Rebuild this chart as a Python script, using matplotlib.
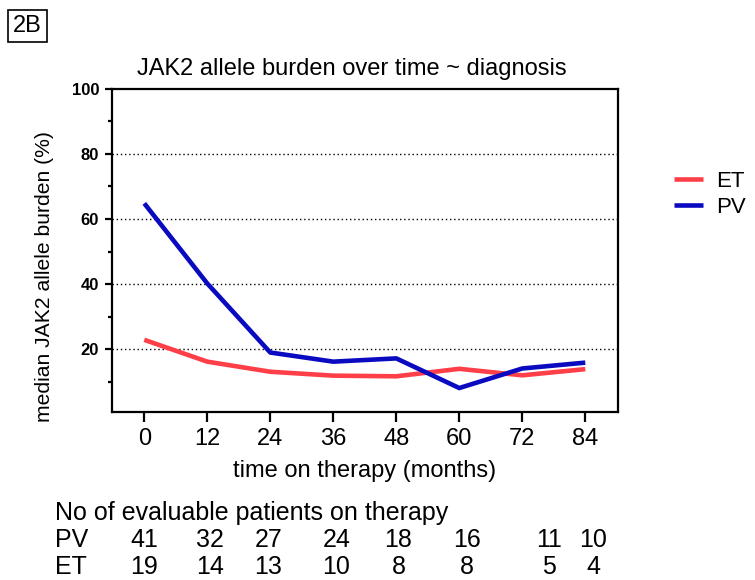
import matplotlib.pyplot as plt
from matplotlib.ticker import MultipleLocator

plt.rcParams['font.family'] = ['Liberation Sans', 'DejaVu Sans']

# dati
months = [0, 12, 24, 36, 48, 60, 72, 84]
et_burden = [22.9, 16.2, 13.1, 11.9, 11.7, 14.0, 12.0, 13.9]
pv_burden = [64.8, 40.2, 19.0, 16.2, 17.2, 8.1, 14.1, 15.9]
pv_counts = [41, 32, 27, 24, 18, 16, 11, 10]
et_counts = [19, 14, 13, 10, 8, 8, 5, 4]

c_et = '#FF3F48'
c_pv = '#0A0AC0'

fig = plt.figure(figsize=(7.55, 5.8), dpi=100)
ax = fig.add_axes([0.148, 0.29, 0.671, 0.557])

ax.plot(months, et_burden, color=c_et, lw=3.3, label='ET', solid_capstyle='butt')
ax.plot(months, pv_burden, color=c_pv, lw=3.3, label='PV', solid_capstyle='butt')

ax.set_xlim(-6.2, 90.3)
ax.set_ylim(0.8, 100)
ax.set_xticks(months)
ax.set_yticks([20, 40, 60, 80, 100])
ax.yaxis.set_minor_locator(MultipleLocator(10))
for y in [20, 40, 60, 80]:
    ax.axhline(y, color='black', lw=1, ls=(0, (1, 2)), zorder=0)

for s in ax.spines.values():
    s.set_linewidth(1.6)
ax.tick_params(axis='x', direction='out', length=7, width=1.6, labelsize=17, pad=5)
ax.tick_params(axis='y', which='major', direction='out', length=5, width=1.6, labelsize=12, pad=4)
ax.tick_params(axis='y', which='minor', direction='out', length=3, width=1.6)
for lab in ax.get_yticklabels():
    lab.set_fontweight('bold')

ax.set_xlabel('time on therapy (months)', fontsize=17, labelpad=7)
ax.set_ylabel('median JAK2 allele burden (%)', fontsize=15.2)
ax.yaxis.set_label_coords(-0.113, 0.418)
ax.set_title('JAK2 allele burden over time ~ diagnosis', fontsize=17, pad=10, x=0.474)

ax.legend(loc='center left', bbox_to_anchor=(1.07, 0.673), frameon=False, fontsize=16,
          handlelength=1.3, handletextpad=0.6, labelspacing=0.22)

# pannello
fig.text(0.017, 0.955, '2B', fontsize=17, va='center', ha='left',
         bbox=dict(boxstyle='square,pad=0.22', fc='white', ec='black', lw=1.2))

# tabella pazienti
fs = 18
fig.text(0.073, 0.116, 'No of evaluable patients on therapy', fontsize=fs, va='center')
fig.text(0.073, 0.069, 'PV', fontsize=fs, va='center')
fig.text(0.073, 0.022, 'ET', fontsize=fs, va='center')
col_pos = [0, 12.6, 23.6, 36.6, 48.4, 61.4, 77.1, 85.5]
for x, p, e in zip(col_pos, pv_counts, et_counts):
    # posizione x dei numeri allineata ai dati
    xf = fig.transFigure.inverted().transform(ax.transData.transform((x, 0)))[0]
    fig.text(xf, 0.069, str(p), fontsize=fs, ha='center', va='center')
    fig.text(xf, 0.022, str(e), fontsize=fs, ha='center', va='center')

fig.savefig('out.png', dpi=100)
